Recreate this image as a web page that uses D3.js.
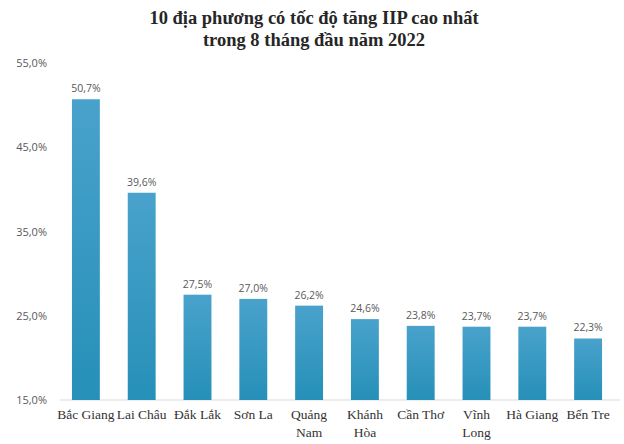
<html>
<head>
<meta charset="utf-8">
<style>
  body { margin: 0; background: white; }
  svg { display: block; }
  .ytick { font-family: "Open Sans", "DejaVu Sans", sans-serif; font-size: 11px; fill: #595959; }
  .val { font-family: "Open Sans", "DejaVu Sans", sans-serif; font-size: 10.5px; fill: #595959; }
  .cat { font-family: "Liberation Serif", "Times New Roman", serif; font-size: 13.5px; fill: #333; }
  .title { font-family: "Liberation Serif", "Times New Roman", serif; font-size: 18.5px; font-weight: bold; fill: #262626; }
</style>
<script src="https://cdn.jsdelivr.net/npm/d3@7"></script>
</head>
<body>
<svg id="chart"></svg>
<script>
let categories = ["Bắc Giang", "Lai Châu", "Đắk Lắk", "Sơn La", "Quảng Nam", "Khánh Hòa", "Cần Thơ", "Vĩnh Long", "Hà Giang", "Bến Tre"];
let categoryLines = [["Bắc Giang"], ["Lai Châu"], ["Đắk Lắk"], ["Sơn La"], ["Quảng", "Nam"], ["Khánh", "Hòa"], ["Cần Thơ"], ["Vĩnh", "Long"], ["Hà Giang"], ["Bến Tre"]];
let values = [50.7, 39.6, 27.5, 27.0, 26.2, 24.6, 23.8, 23.7, 23.7, 22.3];
let yTicks = [15, 25, 35, 45, 55];
let titleLines = ["10 địa phương có tốc độ tăng IIP cao nhất", "trong 8 tháng đầu năm 2022"];

let width = 624, height = 444;
let svg = d3.select("#chart").attr("width", width).attr("height", height);

let fmt = v => v.toFixed(1).replace(".", ",") + "%";

let x = d3.scaleBand()
  .domain(categories)
  .range([58, 616])
  .paddingInner(0.5)
  .paddingOuter(0.25);

let y = d3.scaleLinear()
  .domain([15, 55])
  .range([400, 63]);

// gradient for bars
let defs = svg.append("defs");
let grad = defs.append("linearGradient")
  .attr("id", "barGrad")
  .attr("x1", 0).attr("y1", 0).attr("x2", 0).attr("y2", 1);
grad.append("stop").attr("offset", "0%").attr("stop-color", "#49a2cb");
grad.append("stop").attr("offset", "100%").attr("stop-color", "#2690b8");

// title
svg.append("g").selectAll("text")
  .data(titleLines)
  .enter().append("text")
  .attr("class", "title")
  .attr("x", 314)
  .attr("y", (d, i) => 24 + i * 22)
  .attr("text-anchor", "middle")
  .text(d => d);

// y axis labels (no line, no ticks)
let axisY = d3.axisLeft(y).tickValues(yTicks).tickFormat(fmt).tickSize(0).tickPadding(0);
let gy = svg.append("g")
  .attr("transform", "translate(47,0)")
  .call(axisY);
gy.select(".domain").remove();
gy.selectAll("text").attr("class", "ytick").attr("font-family", null).attr("font-size", null);

// baseline
svg.append("line")
  .attr("x1", 60).attr("x2", 620)
  .attr("y1", y(15)).attr("y2", y(15))
  .attr("stroke", "#d9d9d9")
  .attr("stroke-width", 1);

// bars
svg.append("g").selectAll("rect")
  .data(values)
  .enter().append("rect")
  .attr("x", (d, i) => x(categories[i]))
  .attr("y", d => y(d))
  .attr("width", x.bandwidth())
  .attr("height", d => y(15) - y(d))
  .attr("fill", "url(#barGrad)");

// value labels
svg.append("g").selectAll("text")
  .data(values)
  .enter().append("text")
  .attr("class", "val")
  .attr("x", (d, i) => x(categories[i]) + x.bandwidth() / 2)
  .attr("y", d => y(d) - 7)
  .attr("text-anchor", "middle")
  .text(fmt);

// category labels
let cats = svg.append("g").selectAll("text")
  .data(categoryLines)
  .enter().append("text")
  .attr("class", "cat")
  .attr("x", (d, i) => x(categories[i]) + x.bandwidth() / 2)
  .attr("y", 419)
  .attr("text-anchor", "middle");
cats.selectAll("tspan")
  .data(d => d)
  .enter().append("tspan")
  .attr("x", function () { return d3.select(this.parentNode).attr("x"); })
  .attr("dy", (d, i) => i === 0 ? 0 : 18)
  .text(d => d);
</script>
</body>
</html>
